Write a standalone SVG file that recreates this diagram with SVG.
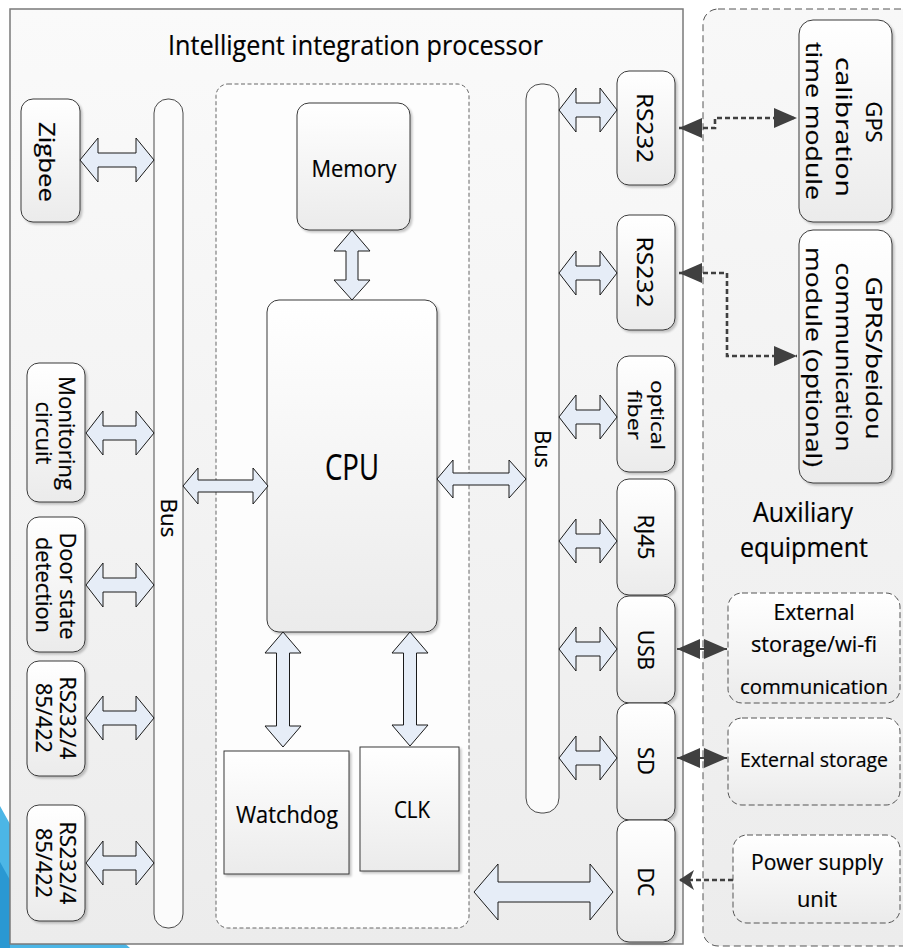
<svg xmlns="http://www.w3.org/2000/svg" width="903" height="948" viewBox="0 0 903 948">
<style>
text{font-family:"Open Sans","Liberation Sans",sans-serif;fill:#000;stroke:#000;stroke-width:0.2}
.mod{fill:url(#gMod);stroke:#3a3a3a;stroke-width:1;filter:url(#sh)}
.bus{fill:#fbfbfb;stroke:#4a4a4a;stroke-width:1}
.blk{fill:#e6edf7;stroke:#1a1a1a;stroke-width:1;stroke-linejoin:miter}
.dbox{fill:url(#gMod);stroke:#555;stroke-width:1;stroke-dasharray:6,3}
.dl{fill:none;stroke:#404040;stroke-width:2.6;stroke-dasharray:5,3}
.sl{fill:none;stroke:#404040;stroke-width:2}
</style>
<defs>
<linearGradient id="gMain" x1="0" y1="0" x2="0" y2="1"><stop offset="0" stop-color="#fafafa"/><stop offset="1" stop-color="#ececec"/></linearGradient>
<linearGradient id="gAux" x1="0" y1="0" x2="0" y2="1"><stop offset="0" stop-color="#f8f8f8"/><stop offset="1" stop-color="#ececec"/></linearGradient>
<linearGradient id="gMod" x1="0" y1="0" x2="0" y2="1"><stop offset="0" stop-color="#ffffff"/><stop offset="1" stop-color="#ebebeb"/></linearGradient>
<filter id="sh" x="-10%" y="-10%" width="130%" height="130%"><feDropShadow dx="2" dy="2" stdDeviation="1.2" flood-color="#000" flood-opacity="0.22"/></filter>
<marker id="tri" markerUnits="userSpaceOnUse" markerWidth="24" markerHeight="20" refX="23" refY="10" orient="auto-start-reverse" viewBox="0 0 24 20"><path d="M0,0 L23,10 L0,20 z" fill="#404040"/></marker>
<marker id="stl" markerUnits="userSpaceOnUse" markerWidth="16" markerHeight="20" refX="15" refY="10" orient="auto" viewBox="0 0 16 20"><path d="M0,0 L15,10 L0,20 L4,10 z" fill="#404040"/></marker>
</defs>
<rect width="903" height="948" fill="#fff"/>
<polygon points="0,806 30,860 130,948 0,948" fill="#4cb6e6"/>
<polygon points="0,862 10,880 10,948 0,948" fill="#2a98d2"/>

<g id="main-box"><rect x="10" y="9" width="673" height="935" fill="url(#gMain)" stroke="#7a7a7a" stroke-width="1.5"/>
<text x="168" y="55" font-size="27" textLength="375" lengthAdjust="spacingAndGlyphs">Intelligent integration processor</text></g>
<g id="aux-box"><rect x="703" y="9" width="230" height="937" rx="15" fill="url(#gAux)" stroke="#555" stroke-width="1" stroke-dasharray="7,4"/>
<text x="803" y="522" font-size="27" text-anchor="middle" textLength="100" lengthAdjust="spacingAndGlyphs">Auxiliary</text>
<text x="804" y="557" font-size="27" text-anchor="middle" textLength="128" lengthAdjust="spacingAndGlyphs">equipment</text></g>
<g id="core-box"><rect x="216" y="84" width="253" height="844" rx="12" fill="#fdfdfd" stroke="#666" stroke-width="1" stroke-dasharray="4,2.5"/></g>

<g id="bus-left"><rect class="bus" x="154" y="99" width="29" height="829" rx="14"/>
<text transform="translate(161,518) rotate(90)" font-size="22" text-anchor="middle" textLength="39" lengthAdjust="spacingAndGlyphs">Bus</text></g>
<g id="bus-right"><rect class="bus" x="526" y="84" width="33" height="729" rx="15"/>
<text transform="translate(535,449) rotate(90)" font-size="22" text-anchor="middle" textLength="38" lengthAdjust="spacingAndGlyphs">Bus</text></g>

<g id="zigbee"><rect class="mod" x="21" y="99" width="59" height="123" rx="12"/>
<text transform="translate(39,162) rotate(90)" font-size="21" text-anchor="middle" textLength="80" lengthAdjust="spacingAndGlyphs">Zigbee</text></g>
<g id="monitoring"><rect class="mod" x="27" y="363" width="58" height="139" rx="12"/>
<text transform="translate(59,433) rotate(90)" font-size="21" text-anchor="middle" textLength="114" lengthAdjust="spacingAndGlyphs">Monitoring</text>
<text transform="translate(36,433) rotate(90)" font-size="21" text-anchor="middle" textLength="63" lengthAdjust="spacingAndGlyphs">circuit</text></g>
<g id="door"><rect class="mod" x="27" y="517" width="58" height="135" rx="12"/>
<text transform="translate(60,586) rotate(90)" font-size="21" text-anchor="middle" textLength="107" lengthAdjust="spacingAndGlyphs">Door state</text>
<text transform="translate(36,585) rotate(90)" font-size="21" text-anchor="middle" textLength="96" lengthAdjust="spacingAndGlyphs">detection</text></g>
<g id="rs485-1"><rect class="mod" x="27" y="661" width="58" height="115" rx="12"/>
<text transform="translate(60,718) rotate(90)" font-size="21" text-anchor="middle" textLength="83" lengthAdjust="spacingAndGlyphs">RS232/4</text>
<text transform="translate(36,718) rotate(90)" font-size="21" text-anchor="middle" textLength="70" lengthAdjust="spacingAndGlyphs">85/422</text></g>
<g id="rs485-2"><rect class="mod" x="27" y="805" width="58" height="116" rx="12"/>
<text transform="translate(60,863) rotate(90)" font-size="21" text-anchor="middle" textLength="83" lengthAdjust="spacingAndGlyphs">RS232/4</text>
<text transform="translate(36,863) rotate(90)" font-size="21" text-anchor="middle" textLength="70" lengthAdjust="spacingAndGlyphs">85/422</text></g>

<g id="memory"><rect class="mod" x="297" y="103" width="113" height="127" rx="12"/>
<text x="354" y="177" font-size="23" text-anchor="middle" textLength="85" lengthAdjust="spacingAndGlyphs">Memory</text></g>
<g id="cpu"><rect class="mod" x="267" y="300" width="170" height="332" rx="12"/>
<text x="352" y="480" font-size="37" text-anchor="middle" textLength="54" lengthAdjust="spacingAndGlyphs">CPU</text></g>
<g id="watchdog"><rect class="mod" x="224" y="751" width="125" height="123"/>
<text x="287" y="823" font-size="24" text-anchor="middle" textLength="102" lengthAdjust="spacingAndGlyphs">Watchdog</text></g>
<g id="clk"><rect class="mod" x="360" y="747" width="99" height="124"/>
<text x="412" y="818" font-size="24" text-anchor="middle" textLength="36" lengthAdjust="spacingAndGlyphs">CLK</text></g>

<g id="rs232-1"><rect class="mod" x="617" y="71" width="58" height="114" rx="12"/>
<text transform="translate(637,128) rotate(90)" font-size="22" text-anchor="middle" textLength="70" lengthAdjust="spacingAndGlyphs">RS232</text></g>
<g id="rs232-2"><rect class="mod" x="617" y="215" width="58" height="115" rx="12"/>
<text transform="translate(637,272) rotate(90)" font-size="22" text-anchor="middle" textLength="71" lengthAdjust="spacingAndGlyphs">RS232</text></g>
<g id="optical"><rect class="mod" x="617" y="356" width="58" height="116" rx="12"/>
<text transform="translate(651,415) rotate(90)" font-size="19" text-anchor="middle" textLength="70" lengthAdjust="spacingAndGlyphs">optical</text>
<text transform="translate(628,415) rotate(90)" font-size="19" text-anchor="middle" textLength="50" lengthAdjust="spacingAndGlyphs">fiber</text></g>
<g id="rj45"><rect class="mod" x="617" y="479" width="58" height="116" rx="12"/>
<text transform="translate(638,537) rotate(90)" font-size="21" text-anchor="middle" textLength="45" lengthAdjust="spacingAndGlyphs">RJ45</text></g>
<g id="usb"><rect class="mod" x="617" y="596" width="58" height="107" rx="12"/>
<text transform="translate(638,650) rotate(90)" font-size="21" text-anchor="middle" textLength="40" lengthAdjust="spacingAndGlyphs">USB</text></g>
<g id="sd"><rect class="mod" x="617" y="703" width="58" height="117" rx="12"/>
<text transform="translate(638,761) rotate(90)" font-size="21" text-anchor="middle" textLength="28" lengthAdjust="spacingAndGlyphs">SD</text></g>
<g id="dc"><rect class="mod" x="617" y="820" width="58" height="122" rx="12"/>
<text transform="translate(638,882) rotate(90)" font-size="21" text-anchor="middle" textLength="29" lengthAdjust="spacingAndGlyphs">DC</text></g>

<g id="gps"><rect class="mod" x="799" y="20" width="93" height="202" rx="14"/>
<text transform="translate(866,122) rotate(90)" font-size="22" text-anchor="middle" textLength="41" lengthAdjust="spacingAndGlyphs">GPS</text>
<text transform="translate(836,127) rotate(90)" font-size="22" text-anchor="middle" textLength="140" lengthAdjust="spacingAndGlyphs">calibration</text>
<text transform="translate(806,121) rotate(90)" font-size="22" text-anchor="middle" textLength="158" lengthAdjust="spacingAndGlyphs">time module</text></g>
<g id="gprs"><rect class="mod" x="799" y="230" width="93" height="253" rx="14"/>
<text transform="translate(866,358) rotate(90)" font-size="22" text-anchor="middle" textLength="163" lengthAdjust="spacingAndGlyphs">GPRS/beidou</text>
<text transform="translate(836,357) rotate(90)" font-size="22" text-anchor="middle" textLength="189" lengthAdjust="spacingAndGlyphs">communication</text>
<text transform="translate(806,357) rotate(90)" font-size="22" text-anchor="middle" textLength="220" lengthAdjust="spacingAndGlyphs">module (optional)</text></g>
<g id="ext-wifi"><rect class="dbox" x="728" y="593" width="172" height="110" rx="14"/>
<text x="814" y="620" font-size="21" text-anchor="middle" textLength="81" lengthAdjust="spacingAndGlyphs">External</text>
<text x="814" y="652" font-size="21" text-anchor="middle" textLength="126" lengthAdjust="spacingAndGlyphs">storage/wi-fi</text>
<text x="814" y="694" font-size="20" text-anchor="middle" textLength="148" lengthAdjust="spacingAndGlyphs">communication</text></g>
<g id="ext-storage"><rect class="dbox" x="728" y="718" width="172" height="87" rx="14"/>
<text x="814" y="767" font-size="20" text-anchor="middle" textLength="148" lengthAdjust="spacingAndGlyphs">External storage</text></g>
<g id="power"><rect class="dbox" x="733" y="835" width="167" height="88" rx="14"/>
<text x="817" y="870" font-size="21" text-anchor="middle" textLength="132" lengthAdjust="spacingAndGlyphs">Power supply</text>
<text x="817" y="907" font-size="21" text-anchor="middle" textLength="40" lengthAdjust="spacingAndGlyphs">unit</text></g>

<g id="connectors">
<polygon class="blk" points="80,160 98,138 98,153 136,153 136,138 154,160 136,182 136,167 98,167 98,182"/>
<polygon class="blk" points="86,433 103,411 103,426 136,426 136,411 154,433 136,455 136,440 103,440 103,455"/>
<polygon class="blk" points="86,585 103,563 103,578 136,578 136,563 154,585 136,607 136,592 103,592 103,607"/>
<polygon class="blk" points="86,718 103,696 103,711 136,711 136,696 154,718 136,740 136,725 103,725 103,740"/>
<polygon class="blk" points="86,863 103,841 103,856 136,856 136,841 154,863 136,885 136,870 103,870 103,885"/>
<polygon class="blk" points="183,486 198,468 198,480 253,480 253,468 268,486 253,504 253,492 198,492 198,504"/>
<polygon class="blk" points="437,479 453,460 453,473 509,473 509,460 526,479 509,498 509,485 453,485 453,498"/>
<polygon class="blk" points="352,230 370,251 358,251 358,280 370,280 352,300 334,280 346,280 346,251 334,251"/>
<polygon class="blk" points="283,632 301,653 289.5,653 289.5,726 301,726 283,747 265,726 276.5,726 276.5,653 265,653"/>
<polygon class="blk" points="410,632 428,653 416.5,653 416.5,725 428,725 410,746 392,725 403.5,725 403.5,653 392,653"/>
<polygon class="blk" points="559,110 576,88 576,103 600,103 600,88 617,110 600,132 600,117 576,117 576,132"/>
<polygon class="blk" points="559,273 576,251 576,266 600,266 600,251 617,273 600,295 600,280 576,280 576,295"/>
<polygon class="blk" points="559,417 576,395 576,410 600,410 600,395 617,417 600,439 600,424 576,424 576,439"/>
<polygon class="blk" points="559,541 576,519 576,534 600,534 600,519 617,541 600,563 600,548 576,548 576,563"/>
<polygon class="blk" points="559,649 576,627 576,642 600,642 600,627 617,649 600,671 600,656 576,656 576,671"/>
<polygon class="blk" points="559,758 576,736 576,751 600,751 600,736 617,758 600,780 600,765 576,765 576,780"/>
<polygon class="blk" points="474,892 498,864 498,882 590,882 590,864 613,892 590,920 590,902 498,902 498,920"/>
<path class="dl" d="M 679 128 H 715 V 118 H 797" marker-start="url(#tri)" marker-end="url(#tri)"/>
<path class="dl" d="M 679 273 H 727 V 356 H 797" marker-start="url(#tri)" marker-end="url(#tri)"/>
<path class="sl" d="M 677 649 H 727" marker-start="url(#tri)" marker-end="url(#tri)"/>
<path class="sl" d="M 677 758 H 727" marker-start="url(#tri)" marker-end="url(#tri)"/>
<path class="dl" d="M 733 880 H 679" marker-end="url(#stl)"/>
</g>
</svg>
